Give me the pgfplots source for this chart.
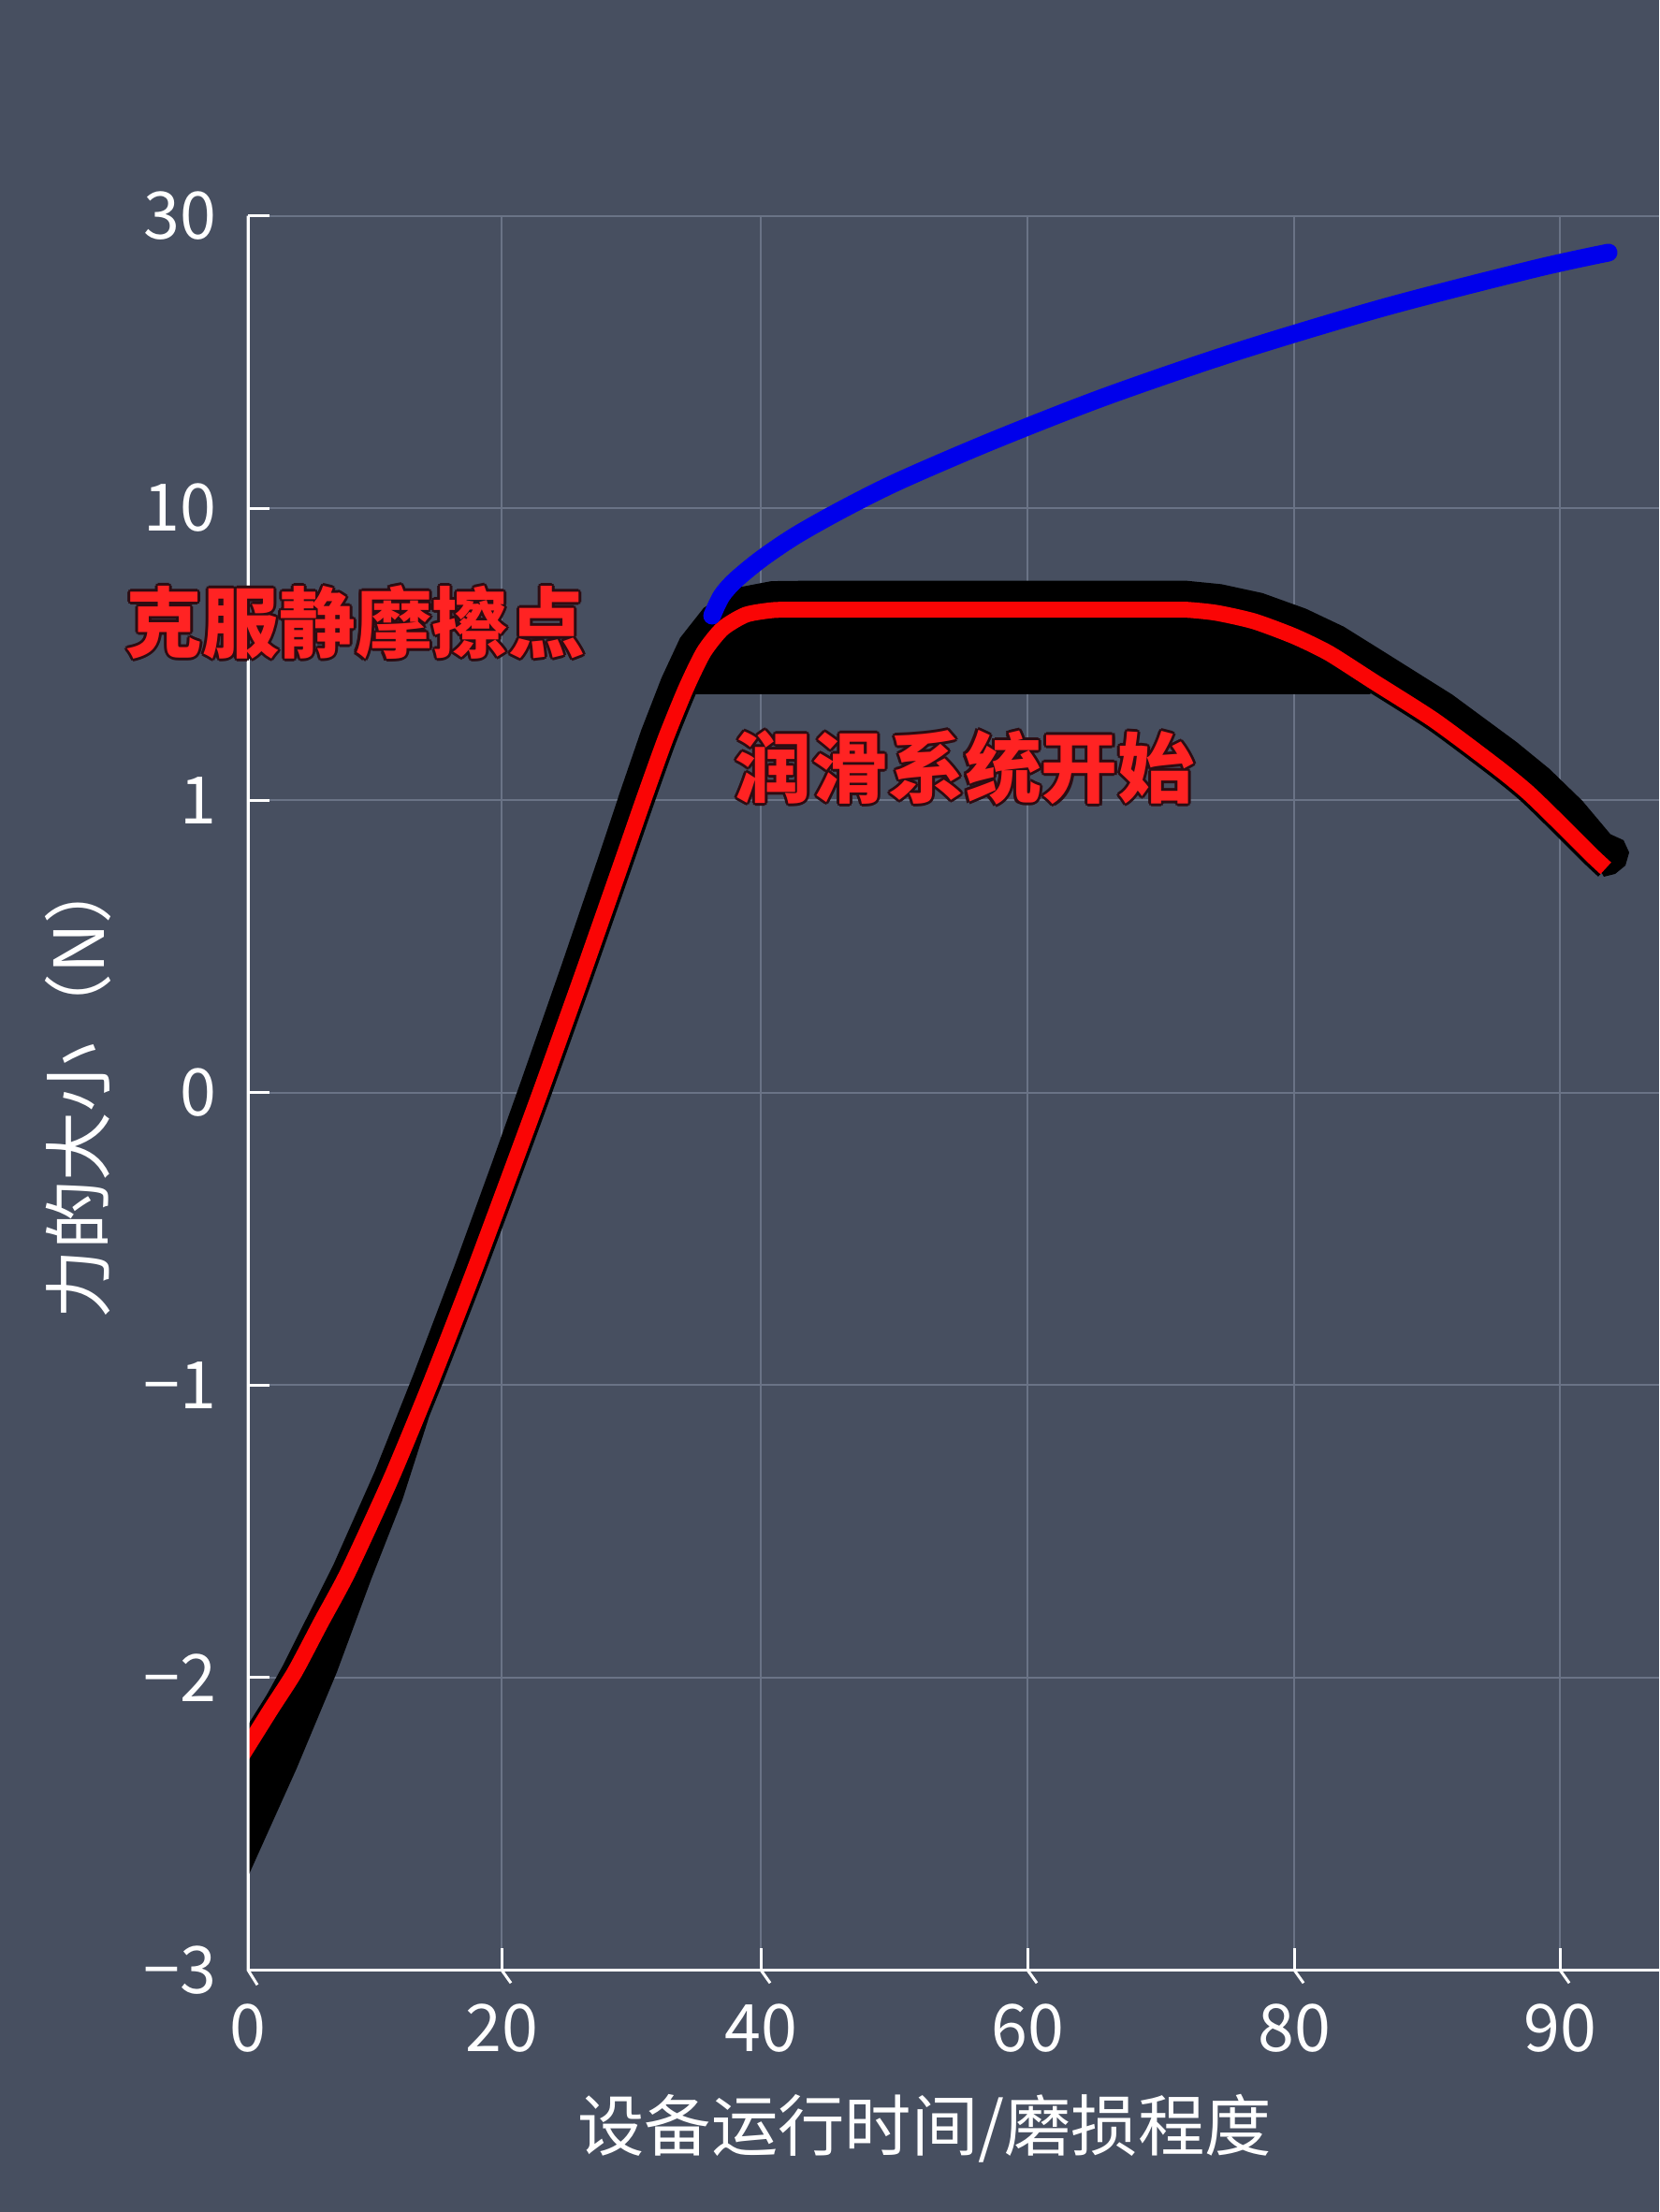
\documentclass[border=0pt]{standalone}
\usepackage{fontspec}
\setmainfont{Noto Sans CJK SC}
\usepackage{pgfplots}
\usepackage{pgfplotstable}
\pgfplotsset{compat=1.18}
\usetikzlibrary{backgrounds}

\definecolor{bg}{RGB}{71,79,96}
\definecolor{gridc}{RGB}{106,115,134}
\definecolor{curvered}{RGB}{250,5,5}
\definecolor{curveblue}{RGB}{0,0,235}
\definecolor{labelred}{RGB}{255,35,35}
\definecolor{labeledge}{RGB}{45,12,18}

\newcommand\labelfont{\fontsize{23.3}{28}\selectfont\bfseries}
% red label with a dark rim: dark copies shifted round it, red on top
\newcommand\outlinedlabel[2]{%
  \foreach \dx/\dy in {0.3/0,-0.3/0,0/0.3,0/-0.3,0.21/0.21,-0.21/0.21,0.21/-0.21,-0.21/-0.21}{
    \node[labeledge, font=\labelfont] at ([xshift=\dx mm, yshift=\dy mm]#1) {#2};}
  \node[labelred, font=\labelfont] at (#1) {#2};}

% red curve (x: tick index, y: label index, -3 -> 0 ... 30 -> 6)
\pgfplotstableread{
x y
-0.0357 0.7147
0.0000 0.7659
0.0892 0.8939
0.1783 1.0187
0.2782 1.1883
0.3816 1.3612
0.5456 1.6813
0.6990 2.0141
0.8595 2.3853
1.0057 2.7374
1.1198 3.0158
1.2767 3.4095
1.4194 3.7744
1.5086 4.0048
1.5906 4.2096
1.6690 4.3825
1.7368 4.5073
1.8081 4.5873
1.8973 4.6353
2.0043 4.6513
2.1220 4.6523
2.2646 4.6523
2.4786 4.6523
2.7639 4.6523
3.0492 4.6523
3.2989 4.6523
3.4772 4.6523
3.5770 4.6523
3.6912 4.6417
3.8338 4.6129
3.9872 4.5617
4.1191 4.5041
4.2867 4.4081
4.5221 4.2736
4.7611 4.1136
4.8787 4.0272
5.0000 3.9216
5.1177 3.8160
5.1748 3.7680
}\redcurve

% blue curve
\pgfplotstableread{
x y
1.7689 4.6321
1.8046 4.6993
1.8581 4.7537
1.9579 4.8273
2.0899 4.9073
2.2682 4.9970
2.4822 5.0930
2.8388 5.2306
3.2668 5.3810
3.7660 5.5346
4.3367 5.6882
4.9073 5.8195
5.1854 5.8739
}\bluecurve

\begin{document}
\begin{tikzpicture}
\begin{axis}[
  scale only axis,
  width=150.8mm, height=187.47mm,
  xmin=0, xmax=5.378, ymin=0, ymax=6,
  axis lines=left,
  axis line style={-, white, line width=0.3mm},
  xtick={0,0.9665,1.9544,2.9708,3.9872,5.0},
  xticklabels={0,20,40,60,80,90},
  ytick={0,1,2,3,4,5,6},
  yticklabels={−3,−2,−1,0,1,10,30},
  tick align=inside,
  major tick length=2.3mm,
  tick style={white, line width=0.3mm},
  grid=major,
  major grid style={gridc, line width=0.2mm},
  ticklabel style={white, font=\fontsize{19.9}{24}\selectfont},
  xticklabel style={anchor=north, inner sep=0pt, yshift=-3.6mm},
  yticklabel style={anchor=east, inner sep=0pt, xshift=-3.3mm},
  clip mode=individual,
]

% black band behind the red curve: upper edge, end blob, back along the red curve, wedge at the start
\addplot[fill=black, draw=none] coordinates {
  (0.004,0.8299) (0.1334,1.0418) (0.3256,1.3858) (0.4836,1.7055) (0.6312,2.0384)
  (0.7878,2.4100) (0.9305,2.7624) (1.0410,3.0414) (1.1944,3.4358) (1.3335,3.8013)
  (1.4194,4.0330) (1.4989,4.2410) (1.5760,4.4193) (1.6469,4.5562) (1.7372,4.6590)
  (1.8602,4.7272) (1.9950,4.7502) (2.1220,4.7515) (3.5770,4.7515) (3.7097,4.7397)
  (3.8663,4.7093) (4.0318,4.6558) (4.1765,4.5943) (4.3499,4.4971) (4.5902,4.3617)
  (4.8349,4.1997) (4.9597,4.1082) (5.0852,3.9990) (5.1926,3.8845)
  (5.2425,3.8640) (5.2639,3.8224) (5.2496,3.7775) (5.2104,3.7488) (5.1676,3.7392)
  (5.1177,3.8160) (5.0000,3.9216) (4.8787,4.0272) (4.7611,4.1136) (4.5221,4.2736)
  (4.3260,4.3825) (4.2725,4.3633) (1.6940,4.3633) (1.6940,4.4273) (1.6690,4.3825)
  (1.5906,4.2096) (1.5086,4.0048) (1.4194,3.7744) (1.2767,3.4095) (1.1198,3.0158)
  (1.0057,2.7374) (0.8595,2.3853) (0.7668,2.1613)
  (0.7311,2.0333) (0.6847,1.8764) (0.5884,1.6076) (0.4708,1.3388) (0.3388,1.0187)
  (0.1854,0.6891) (0.004,0.3274)
} --cycle;

% red curve with a thin dark rim
\addplot[black, line width=2.4mm, line join=round, smooth, tension=0.4] table {\redcurve};
\addplot[curvered, line width=1.7mm, line join=round, smooth, tension=0.4] table {\redcurve};

% blue curve
\addplot[curveblue, line width=1.9mm, line cap=round, smooth] table {\bluecurve};

% y axis line again on top, reaching a little below the x axis
\draw[white, line width=0.3mm] (axis cs:0,6) -- (axis cs:0,0) -- ++(0,-1.6mm);
\pgfplotsinvokeforeach{0.9665,1.9544,2.9708,3.9872,5.0}{
  \draw[white, line width=0.3mm] (axis cs:#1,0) -- ++(0,-1.4mm);
}

\node[white, font=\fontsize{20.3}{24}\selectfont] at (axis cs:2.5785,-0.543) {设备运行时间/磨损程度};
\node[white, rotate=90, font=\fontsize{21}{25}\selectfont] at (axis cs:-0.649,3.02) {力的大小（N）};

\coordinate (labA) at (axis cs:0.4101,4.6097);
\coordinate (labB) at (axis cs:2.7318,4.1136);
\coordinate (imgBL) at (axis cs:-0.9451,-0.8280);
\coordinate (imgTR) at (axis cs:5.3780,6.7380);
\end{axis}

\outlinedlabel{labA}{克服静摩擦点}
\outlinedlabel{labB}{润滑系统开始}

\begin{pgfonlayer}{background}
  \fill[bg] (imgBL) rectangle (imgTR);
\end{pgfonlayer}
\pgfresetboundingbox
\path[use as bounding box] (imgBL) rectangle (imgTR);
\end{tikzpicture}
\end{document}
